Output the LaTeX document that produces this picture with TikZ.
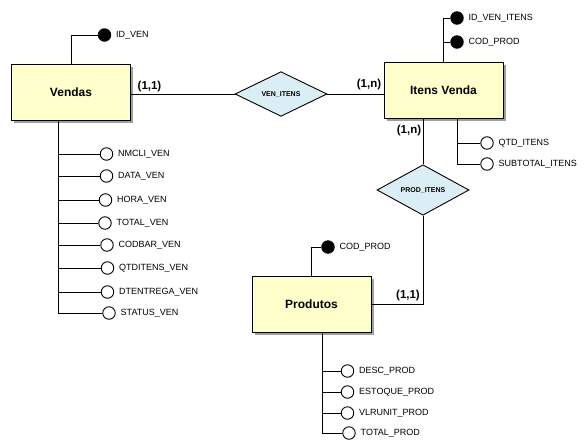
\documentclass[tikz,border=0pt]{standalone}
\usepackage{fontspec}
\setmainfont{Liberation Sans}
\usetikzlibrary{shapes.geometric,shadows}
\definecolor{entfill}{RGB}{255,255,204}
\definecolor{relfill}{RGB}{220,238,245}
\tikzset{
  link/.style={line width=0.9pt},
  entity/.style={draw,line width=0.9pt,fill=entfill,minimum width=119pt,minimum height=56pt,
    font=\fontsize{12}{14}\selectfont\bfseries,
    general shadow={fill=gray!75,shadow xshift=2.5pt,shadow yshift=-2.5pt}},
  relation/.style={draw,diamond,line width=0.9pt,fill=relfill,inner sep=0pt,
    minimum width=92pt,minimum height=33pt,font=\fontsize{7}{8}\selectfont\bfseries},
  attrlabel/.style={font=\fontsize{9}{10}\selectfont,label distance=1.5pt},
  keyattr/.style={draw,circle,fill=black,minimum size=12.5pt,inner sep=0pt,line width=0.9pt,
    label={[attrlabel]right:#1}},
  attr/.style={draw,circle,fill=white,minimum size=12.5pt,inner sep=0pt,line width=0.9pt,
    label={[attrlabel]right:#1}},
  card/.style={font=\fontsize{11.5}{13}\selectfont\bfseries}
}
\begin{document}
\begin{tikzpicture}[x=1pt,y=-1pt]
  \useasboundingbox (0,0) rectangle (586,445);
  \node[entity] (vendas) at (71,92) {Vendas};
  \node[entity] (itens) at (443.5,90) {Itens Venda};
  \node[entity] (produtos) at (311.5,304) {Produtos};
  \node[relation] (venitens) at (281,94) {VEN\_ITENS};
  \node[relation] (proditens) at (423,190) {PROD\_ITENS};

  \draw[link] (vendas.east |- venitens) -- (venitens) -- (itens.west |- venitens);
  \draw[link] (itens.south -| proditens) -- (proditens.north);
  \draw[link] (proditens.south) |- (produtos.east);
  \node[card] (cvendas) at (149.5,87) {(1,1)};
  \node[card] (citens) at (369,85) {(1,n)};
  \node[card] (citensb) at (409,131) {(1,n)};
  \node[card] (cprod) at (408,296) {(1,1)};

  \node[keyattr=ID\_VEN] (idven) at (104.5,35) {};
  \draw[link] (vendas.north) |- (idven);
  \foreach \nm/\xx/\yy [count=\i] in {NMCLI\_VEN/106.5/154, DATA\_VEN/106.5/176,
      HORA\_VEN/105.5/200, TOTAL\_VEN/105/223, CODBAR\_VEN/107/245,
      QTDITENS\_VEN/107.5/268, DTENTREGA\_VEN/107.5/292, STATUS\_VEN/109/313}{
    \node[attr=\nm] (va\i) at (\xx,\yy) {};
    \draw[link] ([xshift=-13pt]vendas.south) |- (va\i);
  }

  \node[keyattr=ID\_VEN\_ITENS] (idvenitens) at (457,18) {};
  \node[keyattr=COD\_PROD] (codprodi) at (457,42) {};
  \draw[link] (itens.north) |- (idvenitens);
  \draw[link] (itens.north) |- (codprodi);
  \node[attr=QTD\_ITENS] (qtditens) at (487,143) {};
  \node[attr=SUBTOTAL\_ITENS] (subtotal) at (487,164) {};
  \draw[link] ([xshift=13.5pt]itens.south) |- (qtditens);
  \draw[link] ([xshift=13.5pt]itens.south) |- (subtotal);

  \node[keyattr=COD\_PROD] (codprod) at (328,247) {};
  \draw[link] (produtos.north) |- (codprod);
  \foreach \nm/\xx/\yy [count=\i] in {DESC\_PROD/347.5/371, ESTOQUE\_PROD/347.5/392,
      VLRUNIT\_PROD/347.5/413, TOTAL\_PROD/349/433}{
    \node[attr=\nm] (pa\i) at (\xx,\yy) {};
    \draw[link] ([xshift=10.5pt]produtos.south) |- (pa\i);
  }
\end{tikzpicture}
\end{document}
